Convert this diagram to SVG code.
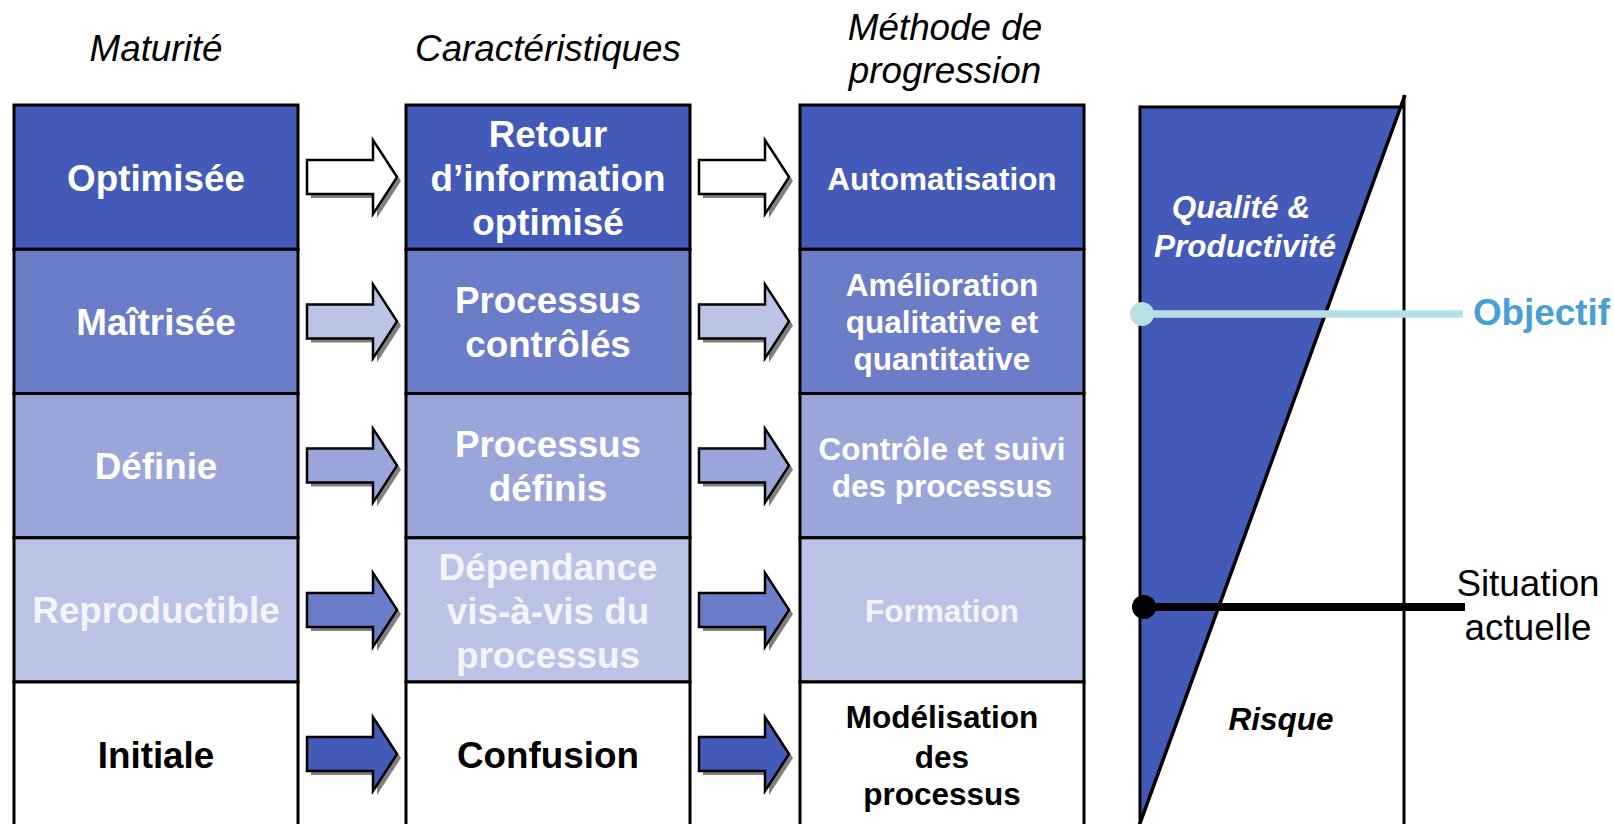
<svg xmlns="http://www.w3.org/2000/svg" width="1614" height="824" viewBox="0 0 1614 824">
<style>
.box{stroke:#000;stroke-width:3}
.r1{fill:#445AB9}.r2{fill:#6B7CC8}.r3{fill:#9AA6DA}.r4{fill:#BBC3E6}.r5{fill:#FFFFFF}
.t{font-family:"Liberation Sans",Arial,sans-serif;font-weight:bold;text-anchor:middle}
.c12{font-size:36.8px}.c3{font-size:31.5px}
.w{fill:#FFFFFF}.lw{fill:#F4F5FB}.k{fill:#000}
.hd{font-family:"Liberation Sans",Arial,sans-serif;font-style:italic;font-size:36.8px;text-anchor:middle;fill:#000}
.sh{fill:#808080}
.ar{stroke:#000;stroke-width:2.5;stroke-linejoin:miter}
</style>
<defs>
<path id="arr" d="M0,-17 L66,-17 L66,-37 L90,0 L66,37 L66,17 L0,17 Z"/>
</defs>
<rect width="1614" height="824" fill="#FFFFFF"/>

<g id="headers">
<text class="hd" x="156" y="60.5">Maturité</text>
<text class="hd" x="548" y="60.5">Caractéristiques</text>
<text class="hd" x="945" y="39.5">Méthode de</text>
<text class="hd" x="945" y="83.3">progression</text>
</g>

<g id="col1">
<g id="m1"><rect class="box r1" x="14" y="105" width="284" height="144.3"/><text class="t c12 w" x="156" y="190.6">Optimisée</text></g>
<g id="m2"><rect class="box r2" x="14" y="249.3" width="284" height="144.2"/><text class="t c12 w" x="156" y="334.9">Maîtrisée</text></g>
<g id="m3"><rect class="box r3" x="14" y="393.5" width="284" height="144.3"/><text class="t c12 w" x="156" y="479.1">Définie</text></g>
<g id="m4"><rect class="box r4" x="14" y="537.8" width="284" height="144.2"/><text class="t c12 lw" x="156" y="623.4">Reproductible</text></g>
<g id="m5"><rect class="box r5" x="14" y="682" width="284" height="150"/><text class="t c12 k" x="156" y="767.6">Initiale</text></g>
</g>

<g id="col2">
<g id="c1"><rect class="box r1" x="406" y="105" width="284" height="144.3"/><text class="t c12 w" x="548"><tspan x="548" y="146.7">Retour</tspan><tspan x="548" y="190.7">d’information</tspan><tspan x="548" y="234.7">optimisé</tspan></text></g>
<g id="c2"><rect class="box r2" x="406" y="249.3" width="284" height="144.2"/><text class="t c12 w"><tspan x="548" y="313">Processus</tspan><tspan x="548" y="357">contrôlés</tspan></text></g>
<g id="c3"><rect class="box r3" x="406" y="393.5" width="284" height="144.3"/><text class="t c12 w"><tspan x="548" y="457.1">Processus</tspan><tspan x="548" y="501.1">définis</tspan></text></g>
<g id="c4"><rect class="box r4" x="406" y="537.8" width="284" height="144.2"/><text class="t c12 lw"><tspan x="548" y="579.5">Dépendance</tspan><tspan x="548" y="623.5">vis-à-vis du</tspan><tspan x="548" y="667.5">processus</tspan></text></g>
<g id="c5"><rect class="box r5" x="406" y="682" width="284" height="150"/><text class="t c12 k" x="548" y="767.6">Confusion</text></g>
</g>

<g id="col3">
<g id="p1"><rect class="box r1" x="800" y="105" width="284" height="144.3"/><text class="t c3 w" x="942" y="190">Automatisation</text></g>
<g id="p2"><rect class="box r2" x="800" y="249.3" width="284" height="144.2"/><text class="t c3 w"><tspan x="942" y="295.7">Amélioration</tspan><tspan x="942" y="333.3">qualitative et</tspan><tspan x="942" y="370">quantitative</tspan></text></g>
<g id="p3"><rect class="box r3" x="800" y="393.5" width="284" height="144.3"/><text class="t c3 w"><tspan x="942" y="459.6">Contrôle et suivi</tspan><tspan x="942" y="496.6">des processus</tspan></text></g>
<g id="p4"><rect class="box r4" x="800" y="537.8" width="284" height="144.2"/><text class="t c3 lw" x="942" y="622.4">Formation</text></g>
<g id="p5"><rect class="box r5" x="800" y="682" width="284" height="150"/><text class="t c3 k"><tspan x="942" y="728.3">Modélisation</tspan><tspan x="942" y="768.3">des</tspan><tspan x="942" y="805">processus</tspan></text></g>
</g>

<g id="connectors">
<use href="#arr" class="sh" x="311" y="181.1"/><use href="#arr" class="ar" fill="#FFFFFF" x="307" y="177.1"/>
<use href="#arr" class="sh" x="703" y="181.1"/><use href="#arr" class="ar" fill="#FFFFFF" x="699" y="177.1"/>
<use href="#arr" class="sh" x="311" y="325.4"/><use href="#arr" class="ar" fill="#BBC3E6" x="307" y="321.4"/>
<use href="#arr" class="sh" x="703" y="325.4"/><use href="#arr" class="ar" fill="#BBC3E6" x="699" y="321.4"/>
<use href="#arr" class="sh" x="311" y="469.6"/><use href="#arr" class="ar" fill="#9AA6DA" x="307" y="465.6"/>
<use href="#arr" class="sh" x="703" y="469.6"/><use href="#arr" class="ar" fill="#9AA6DA" x="699" y="465.6"/>
<use href="#arr" class="sh" x="311" y="613.9"/><use href="#arr" class="ar" fill="#6B7CC8" x="307" y="609.9"/>
<use href="#arr" class="sh" x="703" y="613.9"/><use href="#arr" class="ar" fill="#6B7CC8" x="699" y="609.9"/>
<use href="#arr" class="sh" x="311" y="758.1"/><use href="#arr" class="ar" fill="#445AB9" x="307" y="754.1"/>
<use href="#arr" class="sh" x="703" y="758.1"/><use href="#arr" class="ar" fill="#445AB9" x="699" y="754.1"/>
</g>

<g id="gauge">
<polygon points="1140,107 1400.6,107 1140,826" fill="#445AB9"/>
<line x1="1140" y1="107" x2="1404" y2="107" stroke="#000" stroke-width="3"/>
<line x1="1140" y1="105.5" x2="1140" y2="830" stroke="#000" stroke-width="3"/>
<line x1="1404" y1="95" x2="1404" y2="830" stroke="#000" stroke-width="3"/>
<line x1="1405" y1="95" x2="1139" y2="826" stroke="#000" stroke-width="3.5"/>
<text class="t" x="1241" y="218" font-size="31.5" font-style="italic" fill="#FFFFFF">Qualité &amp;</text>
<text class="t" x="1245" y="257" font-size="31.5" font-style="italic" fill="#FFFFFF">Productivité</text>
<text class="t" x="1281" y="730" font-size="31.5" font-style="italic" fill="#000">Risque</text>
</g>

<g id="objectif">
<line x1="1142" y1="314" x2="1463" y2="314" stroke="#B8E0E4" stroke-width="7.5"/>
<circle cx="1142" cy="314" r="12" fill="#B8E0E4"/>
<text x="1473" y="325" font-family="'Liberation Sans',Arial,sans-serif" font-weight="bold" font-size="36.8" fill="#4A9ED6">Objectif</text>
</g>

<g id="situation">
<line x1="1144" y1="607" x2="1465" y2="607" stroke="#000" stroke-width="8"/>
<circle cx="1144" cy="607" r="12" fill="#000"/>
<text font-family="'Liberation Sans',Arial,sans-serif" font-size="36.8" text-anchor="middle" fill="#000"><tspan x="1528" y="596">Situation</tspan><tspan x="1528" y="640">actuelle</tspan></text>
</g>
</svg>
